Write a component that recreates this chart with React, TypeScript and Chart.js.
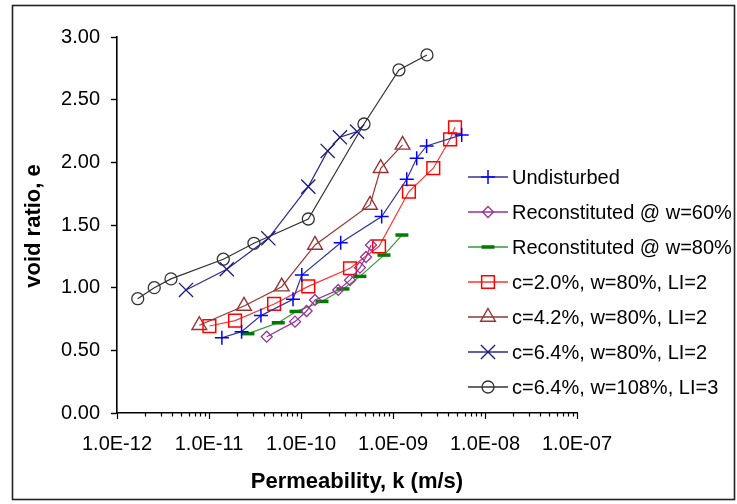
import React, { useEffect, useRef } from 'react';
import { Chart, registerables } from 'chart.js';
import { drawPoint } from 'chart.js/helpers';

Chart.register(...registerables);

// ---- Data (k in m/s, e = void ratio) ----
const seriesLabels = [
  'Undisturbed',
  'Reconstituted @ w=60%',
  'Reconstituted @ w=80%',
  'c=2.0%, w=80%, LI=2',
  'c=4.2%, w=80%, LI=2',
  'c=6.4%, w=80%, LI=2',
  'c=6.4%, w=108%, LI=3',
];

const undisturbedK = [1.38e-11, 2.26e-11, 3.67e-11, 8.19e-11, 1.02e-10, 2.7e-10, 7.53e-10, 1.41e-9, 1.81e-9, 2.32e-9, 5.58e-9];
const undisturbedE = [0.6, 0.649, 0.777, 0.907, 1.101, 1.359, 1.567, 1.865, 2.033, 2.131, 2.219];

const recon60K = [4.24e-11, 8.61e-11, 1.15e-10, 1.42e-10, 2.54e-10, 3.41e-10, 4.37e-10, 5.09e-10, 5.77e-10];
const recon60E = [0.609, 0.729, 0.814, 0.902, 0.982, 1.06, 1.16, 1.245, 1.34];

const recon80K = [2.65e-11, 5.66e-11, 8.83e-11, 1.69e-10, 2.86e-10, 4.37e-10, 7.98e-10, 1.25e-9];
const recon80E = [0.633, 0.72, 0.81, 0.89, 0.99, 1.09, 1.26, 1.42];

const c20K = [1.01e-11, 1.92e-11, 5.1e-11, 1.2e-10, 3.41e-10, 7.05e-10, 1.49e-9, 2.74e-9, 4.17e-9, 4.72e-9];
const c20E = [0.694, 0.737, 0.87, 1.01, 1.155, 1.33, 1.767, 1.953, 2.184, 2.28];

const c42K = [7.85e-12, 2.4e-11, 6.17e-11, 1.42e-10, 5.62e-10, 7.35e-10, 1.27e-9];
const c42E = [0.7, 0.854, 1.008, 1.341, 1.66, 1.953, 2.139];

const c64K = [5.62e-12, 1.56e-11, 4.42e-11, 1.2e-10, 1.95e-10, 2.65e-10, 4.07e-10];
const c64E = [0.982, 1.147, 1.394, 1.806, 2.091, 2.2, 2.245];

const c64w108K = [1.68e-12, 2.54e-12, 3.86e-12, 1.43e-11, 3.08e-11, 1.2e-10, 4.84e-10, 1.16e-9, 2.34e-9];
const c64w108E = [0.912, 1.0, 1.07, 1.227, 1.354, 1.548, 2.306, 2.737, 2.857];

const xMinExp = -12;
const xMaxExp = -7;
const yTickValues = [0, 0.5, 1, 1.5, 2, 2.5, 3];

const FONT = "'Liberation Sans', Arial, Helvetica, sans-serif";

const toPts = (k: number[], e: number[]) => k.map((v, i) => ({ x: v, y: e[i] }));

const styles = [
  { line: '#333399', point: '#0000FF', style: 'cross', r: 7, bw: 1.5 },
  { line: '#993399', point: '#993399', style: 'rectRot', r: 5.5, bw: 1.3 },
  { line: '#339933', point: '#007A00', style: 'line', r: 6.5, bw: 3.5 },
  { line: '#FF3333', point: '#FF0000', style: 'rect', r: 9, bw: 1.5 },
  { line: '#993333', point: '#993333', style: 'triangle', r: 8.5, bw: 1.4 },
  { line: '#2A2A90', point: '#1A1A80', style: 'crossRot', r: 10, bw: 1.3 },
  { line: '#333333', point: '#333333', style: 'circle', r: 6, bw: 1.3 },
];

const seriesData = [
  toPts(undisturbedK, undisturbedE),
  toPts(recon60K, recon60E),
  toPts(recon80K, recon80E),
  toPts(c20K, c20E),
  toPts(c42K, c42E),
  toPts(c64K, c64E),
  toPts(c64w108K, c64w108E),
];

const isMajor = (v: number) => {
  const exp = Math.round(Math.log10(v));
  return Math.abs(v / Math.pow(10, exp) - 1) < 1e-6;
};

const decorPlugin = {
  id: 'decor',
  afterDraw(chart: any) {
    const ctx = chart.ctx as CanvasRenderingContext2D;
    ctx.save();
    // outer frame
    ctx.strokeStyle = '#222';
    ctx.lineWidth = 1.6;
    ctx.strokeRect(12.5, 5.5, 722, 494);

    // x-axis tick marks (major longer than minor)
    const xs = chart.scales.x;
    const bottom = chart.chartArea.bottom;
    ctx.strokeStyle = '#000';
    ctx.lineWidth = 1.2;
    xs.ticks.forEach((t: any) => {
      const px = Math.round(xs.getPixelForValue(t.value)) + 0.5;
      const len = isMajor(t.value) ? 6 : 3.5;
      ctx.beginPath();
      ctx.moveTo(px, bottom);
      ctx.lineTo(px, bottom + len);
      ctx.stroke();
    });

    // axis titles
    ctx.fillStyle = '#000';
    ctx.font = `bold 22px ${FONT}`;
    ctx.textAlign = 'center';
    ctx.textBaseline = 'middle';
    ctx.fillText('Permeability, k (m/s)', 357, 482);
    ctx.save();
    ctx.translate(34, 226);
    ctx.rotate(-Math.PI / 2);
    ctx.fillText('void ratio, e', 0, 0);
    ctx.restore();

    // legend
    const x0 = 468, x1 = 508, y0 = 177, step = 35;
    chart.data.datasets.forEach((ds: any, i: number) => {
      const y = y0 + i * step;
      ctx.strokeStyle = ds.borderColor;
      ctx.lineWidth = 1.5;
      ctx.beginPath();
      ctx.moveTo(x0, y);
      ctx.lineTo(x1, y);
      ctx.stroke();
      ctx.strokeStyle = ds.pointBorderColor;
      ctx.fillStyle = 'rgba(0,0,0,0)';
      ctx.lineWidth = ds.pointBorderWidth;
      drawPoint(ctx, { pointStyle: ds.pointStyle, rotation: 0, radius: ds.pointRadius, borderWidth: ds.pointBorderWidth } as any, (x0 + x1) / 2, y);
      ctx.fillStyle = '#000';
      ctx.font = `20px ${FONT}`;
      ctx.textAlign = 'left';
      ctx.textBaseline = 'middle';
      ctx.fillText(ds.label, 512, y + 1);
    });
    ctx.restore();
  },
};

export default function App() {
  const ref = useRef<HTMLCanvasElement | null>(null);
  useEffect(() => {
    if (!ref.current) return;
    Chart.defaults.font.family = FONT;
    Chart.defaults.color = '#000';
    const chart = new Chart(ref.current, {
      type: 'scatter',
      data: {
        datasets: seriesData.map((d, i) => ({
          label: seriesLabels[i],
          data: d,
          showLine: true,
          borderColor: styles[i].line,
          borderWidth: 1.2,
          tension: 0,
          pointStyle: styles[i].style as any,
          pointRadius: styles[i].r,
          pointHoverRadius: styles[i].r,
          pointBorderColor: styles[i].point,
          pointBackgroundColor: 'rgba(0,0,0,0)',
          pointBorderWidth: styles[i].bw,
        })),
      },
      options: {
        responsive: false,
        animation: false,
        devicePixelRatio: 1,
        layout: { padding: { left: 0, top: 37, right: 160, bottom: 0 } },
        plugins: { legend: { display: false }, tooltip: { enabled: false } },
        scales: {
          x: {
            type: 'logarithmic',
            min: Math.pow(10, xMinExp),
            max: Math.pow(10, xMaxExp),
            afterBuildTicks: (scale: any) => {
              const t: any[] = [];
              for (let e = xMinExp; e < xMaxExp; e++) {
                for (let m = 1; m <= 9; m++) t.push({ value: m * Math.pow(10, e) });
              }
              t.push({ value: Math.pow(10, xMaxExp) });
              scale.ticks = t;
            },
            afterFit: (scale: any) => {
              scale.height = 91;
            },
            ticks: {
              autoSkip: false,
              maxRotation: 0,
              minRotation: 0,
              padding: 19,
              font: { size: 20, family: FONT },
              color: '#000',
              callback: (value: any) => {
                const v = Number(value);
                if (!isMajor(v)) return '';
                const exp = Math.round(Math.log10(v));
                return `1.0E-${String(-exp).padStart(2, '0')}`;
              },
            },
            grid: { display: true, drawOnChartArea: false, drawTicks: false, color: '#000' },
            border: { display: true, color: '#000', width: 1.6 },
          },
          y: {
            type: 'linear',
            min: 0,
            max: 3,
            afterBuildTicks: (scale: any) => {
              scale.ticks = yTickValues.map((v) => ({ value: v }));
            },
            afterFit: (scale: any) => {
              scale.width = 117;
            },
            ticks: {
              padding: 11,
              font: { size: 20, family: FONT },
              color: '#000',
              callback: (v: any) => Number(v).toFixed(2),
            },
            grid: { display: true, drawOnChartArea: false, drawTicks: true, tickLength: 6, color: '#000', tickWidth: 1.4 },
            border: { display: true, color: '#000', width: 1.6 },
          },
        },
      },
      plugins: [decorPlugin],
    } as any);
    return () => chart.destroy();
  }, []);

  return (
    <div style={{ position: 'absolute', left: 0, top: 0, width: 737, height: 504, background: '#fff' }}>
      <canvas ref={ref} width={737} height={504} style={{ display: 'block' }} />
    </div>
  );
}
